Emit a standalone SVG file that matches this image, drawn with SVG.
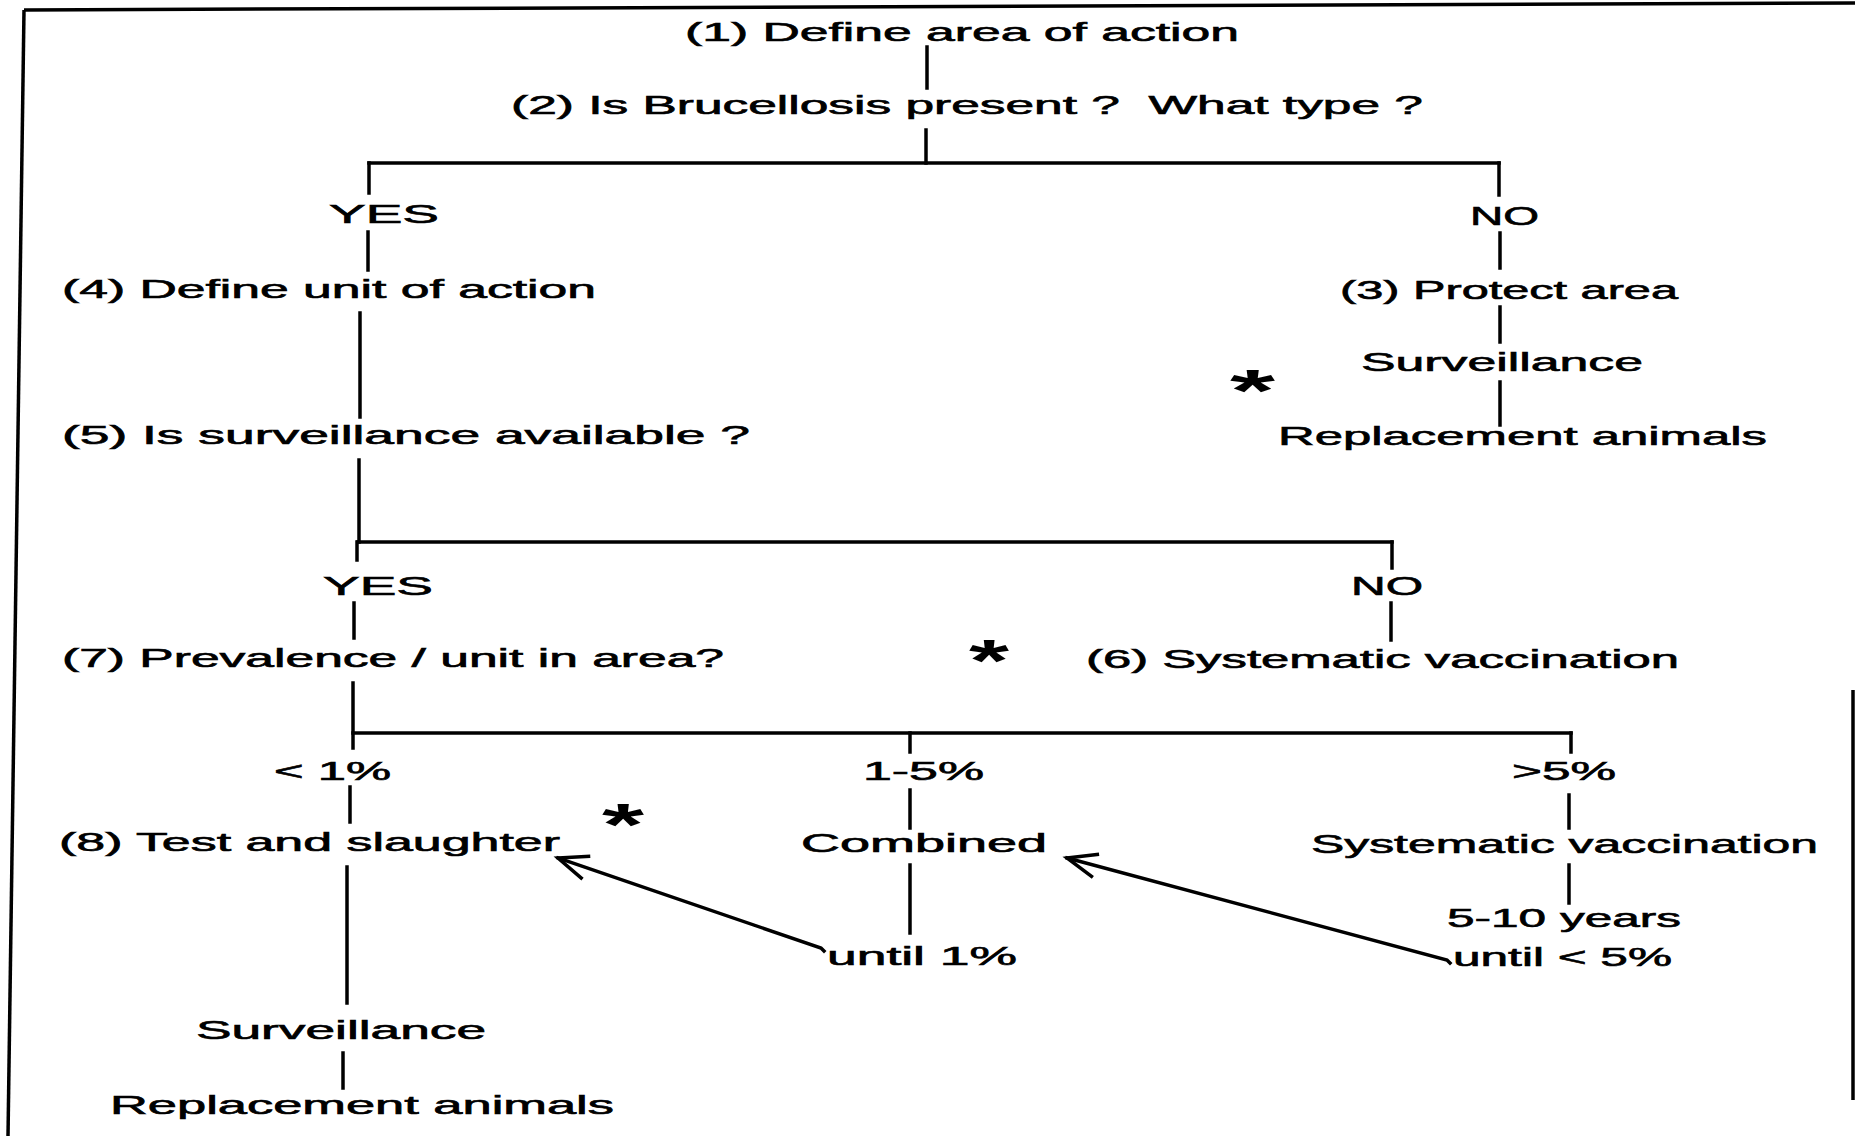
<svg xmlns="http://www.w3.org/2000/svg" width="1855" height="1136" viewBox="0 0 1855 1136">
<style>
.t{font-family:"Liberation Sans",Arial,sans-serif;font-size:25px;fill:#000;stroke:#000;stroke-width:0.6px;white-space:pre}
.a{font-family:"Liberation Sans",Arial,sans-serif;font-size:60px;font-weight:bold;fill:#000}
.l{stroke:#000;stroke-width:3.5;fill:none;stroke-linecap:square}
.b{stroke:#000;stroke-width:3.5;fill:none}
</style>
<defs>
<marker id="arr" markerUnits="userSpaceOnUse" markerWidth="60" markerHeight="60" refX="0" refY="0" orient="auto" overflow="visible">
<path d="M-30,-12 L0,0 L-30,12" fill="none" stroke="#000" stroke-width="3.5"/>
</marker>
</defs>
<rect width="1855" height="1136" fill="#fff"/>
<g id="frame">
<line class="b" x1="24" y1="10" x2="1855" y2="3"/>
<line class="b" x1="24" y1="10" x2="8" y2="1136"/>
<line class="b" x1="1853" y1="690" x2="1853" y2="1100"/>
</g>
<g id="connectors">
<line class="l" x1="927" y1="47" x2="927" y2="88"/>
<line class="l" x1="926" y1="130" x2="926" y2="163"/>
<line class="l" x1="369" y1="163" x2="1499" y2="163"/>
<line class="l" x1="369" y1="163" x2="369" y2="193"/>
<line class="l" x1="1499" y1="163" x2="1499" y2="195"/>
<line class="l" x1="368" y1="232" x2="368" y2="270"/>
<line class="l" x1="1500" y1="233" x2="1500" y2="268"/>
<line class="l" x1="360" y1="313" x2="360" y2="417"/>
<line class="l" x1="1500" y1="307" x2="1500" y2="342"/>
<line class="l" x1="1500" y1="382" x2="1500" y2="425"/>
<line class="l" x1="359" y1="460" x2="359" y2="542"/>
<line class="l" x1="358" y1="542" x2="1392" y2="542"/>
<line class="l" x1="357" y1="542" x2="357" y2="560"/>
<line class="l" x1="1392" y1="542" x2="1392" y2="568"/>
<line class="l" x1="354" y1="603" x2="354" y2="638"/>
<line class="l" x1="1391" y1="603" x2="1391" y2="640"/>
<line class="l" x1="353" y1="683" x2="353" y2="748"/>
<line class="l" x1="353" y1="733" x2="1571" y2="733"/>
<line class="l" x1="910" y1="733" x2="910" y2="752"/>
<line class="l" x1="1571" y1="733" x2="1571" y2="752"/>
<line class="l" x1="350" y1="787" x2="350" y2="822"/>
<line class="l" x1="910" y1="790" x2="910" y2="828"/>
<line class="l" x1="1569" y1="795" x2="1569" y2="828"/>
<line class="l" x1="347" y1="867" x2="347" y2="1003"/>
<line class="l" x1="910" y1="865" x2="910" y2="933"/>
<line class="l" x1="1569" y1="865" x2="1569" y2="903"/>
<line class="l" x1="343" y1="1053" x2="343" y2="1088"/>
<path class="l" d="M824,951 L821,948 L558,858" marker-end="url(#arr)"/>
<path class="l" d="M1450,963 L1447,960 L1067,858" marker-end="url(#arr)"/>
</g>
<g id="n1"><text class="t" x="685" y="41" textLength="554" lengthAdjust="spacingAndGlyphs">(1) Define area of action</text></g>
<g id="n2"><text class="t" x="511" y="114" textLength="912" lengthAdjust="spacingAndGlyphs">(2) Is Brucellosis present ?  What type ?</text></g>
<g id="yes1"><text class="t" x="329" y="223" textLength="110" lengthAdjust="spacingAndGlyphs">YES</text></g>
<g id="no1"><text class="t" x="1470" y="225" textLength="69" lengthAdjust="spacingAndGlyphs">NO</text></g>
<g id="n4"><text class="t" x="62" y="298" textLength="534" lengthAdjust="spacingAndGlyphs">(4) Define unit of action</text></g>
<g id="n3"><text class="t" x="1340" y="299" textLength="338" lengthAdjust="spacingAndGlyphs">(3) Protect area</text></g>
<g id="surv1"><text class="t" x="1361" y="371" textLength="282" lengthAdjust="spacingAndGlyphs">Surveillance</text></g>
<g id="star1"><text class="a" x="1230" y="411" textLength="45" lengthAdjust="spacingAndGlyphs">*</text></g>
<g id="repl1"><text class="t" x="1278" y="445" textLength="489" lengthAdjust="spacingAndGlyphs">Replacement animals</text></g>
<g id="n5"><text class="t" x="62" y="444" textLength="688" lengthAdjust="spacingAndGlyphs">(5) Is surveillance available ?</text></g>
<g id="yes2"><text class="t" x="323" y="595" textLength="110" lengthAdjust="spacingAndGlyphs">YES</text></g>
<g id="no2"><text class="t" x="1351" y="595" textLength="72" lengthAdjust="spacingAndGlyphs">NO</text></g>
<g id="n7"><text class="t" x="62" y="667" textLength="662" lengthAdjust="spacingAndGlyphs">(7) Prevalence / unit in area?</text></g>
<g id="star2"><text class="a" x="969" y="681" textLength="40" lengthAdjust="spacingAndGlyphs">*</text></g>
<g id="n6"><text class="t" x="1086" y="668" textLength="593" lengthAdjust="spacingAndGlyphs">(6) Systematic vaccination</text></g>
<g id="p1"><text class="t" x="274" y="780" textLength="117" lengthAdjust="spacingAndGlyphs">&lt; 1%</text></g>
<g id="p2"><text class="t" x="863" y="780" textLength="121" lengthAdjust="spacingAndGlyphs">1-5%</text></g>
<g id="p3"><text class="t" x="1512" y="780" textLength="104" lengthAdjust="spacingAndGlyphs">&gt;5%</text></g>
<g id="n8"><text class="t" x="59" y="851" textLength="501" lengthAdjust="spacingAndGlyphs">(8) Test and slaughter</text></g>
<g id="star3"><text class="a" x="602" y="845" textLength="42" lengthAdjust="spacingAndGlyphs">*</text></g>
<g id="comb"><text class="t" x="801" y="852" textLength="246" lengthAdjust="spacingAndGlyphs">Combined</text></g>
<g id="sysvac"><text class="t" x="1311" y="853" textLength="507" lengthAdjust="spacingAndGlyphs">Systematic vaccination</text></g>
<g id="years"><text class="t" x="1447" y="927" textLength="234" lengthAdjust="spacingAndGlyphs">5-10 years</text></g>
<g id="until1"><text class="t" x="827" y="965" textLength="190" lengthAdjust="spacingAndGlyphs">until 1%</text></g>
<g id="until5"><text class="t" x="1453" y="966" textLength="219" lengthAdjust="spacingAndGlyphs">until &lt; 5%</text></g>
<g id="surv2"><text class="t" x="196" y="1039" textLength="290" lengthAdjust="spacingAndGlyphs">Surveillance</text></g>
<g id="repl2"><text class="t" x="110" y="1114" textLength="504" lengthAdjust="spacingAndGlyphs">Replacement animals</text></g>
</svg>
